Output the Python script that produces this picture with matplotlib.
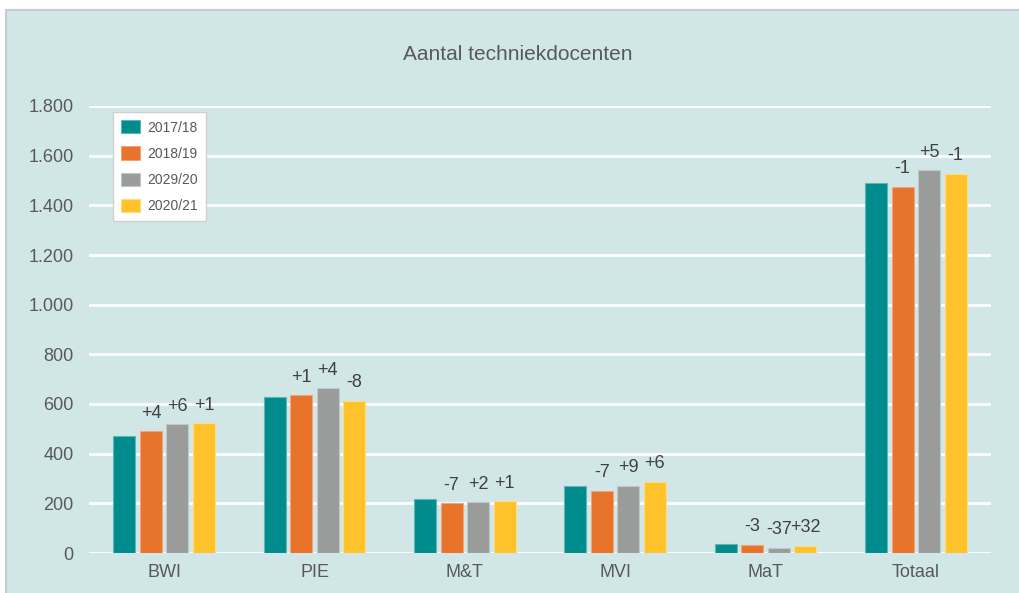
import matplotlib.pyplot as plt
import matplotlib.patches as mpatches
import numpy as np

# data
categories = ["BWI", "PIE", "M&T", "MVI", "MaT", "Totaal"]
years = ["2017/18", "2018/19", "2029/20", "2020/21"]

y2017 = [471, 628, 217, 268, 35, 1491]
y2018 = [491, 636, 201, 250, 33, 1475]
y2019 = [519, 664, 205, 271, 21, 1542]
y2020 = [523, 612, 209, 287, 29, 1526]

# change labels shown above the bars (none above the first year)
lab2018 = ["+4", "+1", "-7", "-7", "-3", "-1"]
lab2019 = ["+6", "+4", "+2", "+9", "-37", "+5"]
lab2020 = ["+1", "-8", "+1", "+6", "+32", "-1"]

colors = ["#008C8C", "#E8732A", "#9A9C9C", "#FFC22B"]
edges = ["#5FB5B3", "#F2A57A", "#C2C6C6", "#FFDC80"]
bg = "#D1E7E7"
txt = "#595959"

plt.rcParams["font.family"] = ["Liberation Sans", "DejaVu Sans"]

fig = plt.figure(figsize=(10.19, 5.93), dpi=100)
fig.patch.set_facecolor("white")

# light teal panel with grey border, cut off at right/bottom
W, H = 1019, 593
panel = mpatches.Rectangle((6 / W, -0.2), 1.2, 1.2 - 10 / H, transform=fig.transFigure,
                           facecolor=bg, edgecolor="#C6CBCB", linewidth=1.5, zorder=-10)
fig.patches.append(panel)

ax = fig.add_axes([89 / W, (H - 553) / H, (991 - 89) / W, (553 - 106) / H])
ax.set_facecolor(bg)
ax.patch.set_alpha(0)

series = [y2017, y2018, y2019, y2020]
labels = [None, lab2018, lab2019, lab2020]
x = np.arange(len(categories))
pitch = 0.1763
width = 0.146

for i, (vals, labs) in enumerate(zip(series, labels)):
    pos = x + (i - 1.5) * pitch
    bars = ax.bar(pos, vals, width, color=colors[i], edgecolor=edges[i],
                  linewidth=0.8, label=years[i], zorder=3)
    if labs is not None:
        for b, s in zip(bars, labs):
            ax.annotate(s, (b.get_x() + b.get_width() / 2, b.get_height()),
                        xytext=(0, 13), textcoords="offset points",
                        ha="center", va="center", fontsize=13, color="#404040",
                        zorder=4)

ax.set_xlim(-0.5, len(categories) - 0.5)
ax.set_ylim(0, 1800)
ax.set_yticks(np.arange(0, 1801, 200))
ax.set_yticklabels([f"{v:,}".replace(",", ".") for v in range(0, 1801, 200)])
ax.set_xticks(x)
ax.set_xticklabels(categories)
ax.tick_params(axis="both", length=0, labelsize=13, labelcolor=txt)
ax.tick_params(axis="x", pad=8)
ax.tick_params(axis="y", pad=11)
ax.grid(axis="y", color="white", linewidth=2, zorder=0)
for sp in ax.spines.values():
    sp.set_visible(False)

fig.text(518 / W, 1 - 55 / H, "Aantal techniekdocenten", ha="center", va="center",
         fontsize=15, color=txt)

leg = ax.legend(loc="upper left", bbox_to_anchor=(113 / W, 1 - 112 / H),
                bbox_transform=fig.transFigure, borderaxespad=0, fontsize=10,
                frameon=True, fancybox=False, edgecolor="#CFCFCF", framealpha=1,
                handlelength=1.37, handleheight=1.08, handletextpad=0.5,
                labelspacing=0.85, borderpad=0.6)
leg.get_frame().set_linewidth(1)
for t in leg.get_texts():
    t.set_color(txt)

fig.savefig("out.png", dpi=100)
